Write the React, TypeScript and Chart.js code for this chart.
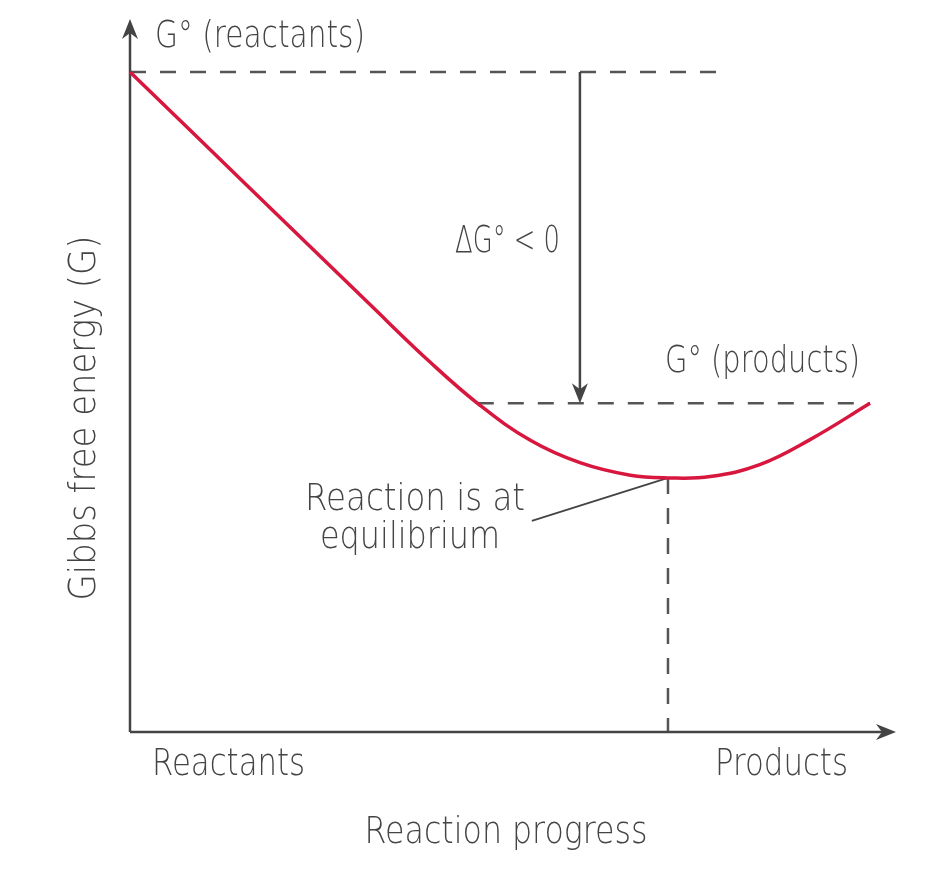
import React, { useEffect, useRef } from "react";
import { Chart, registerables } from "chart.js";

Chart.register(...registerables);

// Reaction progress (0 = pure reactants, 100 = pure products)
const progress = [0, 16.2, 32.4, 40.5, 47.3, 54.1, 60.8, 67.6, 72.7, 78.4, 85.1, 91.9, 100];
// Gibbs free energy (arbitrary units)
const energy = [100, 82.4, 64.8, 56.1, 49.5, 44.2, 40.8, 38.9, 38.5, 38.7, 40.5, 44.3, 49.8];

const gReactants = 100;
const gProducts = 49.8;
const equilibriumX = 72.7;
const equilibriumG = 38.5;
const reactantLineEnd = 79.5;
const productLineStart = 47;
const deltaArrowX = 60.8;
const pointerStart = { x: 54.3, y: 32 };

const xTitle = "Reaction progress";
const yTitle = "Gibbs free energy (G)";
const endLabels = ["Reactants", "Products"];
const labelReactants = "G° (reactants)";
const labelProducts = "G° (products)";
const labelDelta = "ΔG° < 0";
const labelEquilibrium = ["Reaction is at", "equilibrium"];

const FONT = '"DejaVu Sans", sans-serif';
const INK = "#444444";

function arrowHead(ctx: CanvasRenderingContext2D, x: number, y: number, dir: "up" | "down" | "right") {
  const L = 20, W = 8;
  ctx.beginPath();
  if (dir === "up") {
    ctx.moveTo(x, y); ctx.lineTo(x - W, y + L); ctx.lineTo(x, y + L - 6); ctx.lineTo(x + W, y + L);
  } else if (dir === "down") {
    ctx.moveTo(x, y); ctx.lineTo(x - W, y - L); ctx.lineTo(x, y - L + 6); ctx.lineTo(x + W, y - L);
  } else {
    ctx.moveTo(x, y); ctx.lineTo(x - L, y - W); ctx.lineTo(x - L + 6, y); ctx.lineTo(x - L, y + W);
  }
  ctx.closePath();
  ctx.fill();
}

// draws text squeezed horizontally to a given width
function fillFit(ctx: CanvasRenderingContext2D, text: string, x: number, y: number, width: number, align: "left" | "center" | "right") {
  const w = ctx.measureText(text).width;
  const s = width / w;
  let left = x;
  if (align === "center") left = x - width / 2;
  if (align === "right") left = x - width;
  ctx.save();
  ctx.textAlign = "left";
  ctx.translate(left, y);
  ctx.scale(s, 1);
  ctx.fillText(text, 0, 0);
  ctx.restore();
}

const diagramPlugin = {
  id: "diagram",
  beforeDatasetsDraw(chart: any) {
    const { ctx, chartArea, scales } = chart;
    const xs = scales.x, ys = scales.y;
    ctx.save();
    ctx.strokeStyle = "#555555";
    ctx.lineWidth = 2.5;
    ctx.setLineDash([16, 14]);
    ctx.beginPath();
    ctx.moveTo(xs.getPixelForValue(0), ys.getPixelForValue(gReactants));
    ctx.lineTo(xs.getPixelForValue(reactantLineEnd), ys.getPixelForValue(gReactants));
    ctx.moveTo(xs.getPixelForValue(productLineStart), ys.getPixelForValue(gProducts));
    ctx.lineTo(xs.getPixelForValue(100), ys.getPixelForValue(gProducts));
    ctx.moveTo(xs.getPixelForValue(equilibriumX), ys.getPixelForValue(equilibriumG));
    ctx.lineTo(xs.getPixelForValue(equilibriumX), chartArea.bottom);
    ctx.stroke();
    ctx.setLineDash([]);

    // axes
    ctx.strokeStyle = INK;
    ctx.fillStyle = INK;
    ctx.lineWidth = 2.5;
    ctx.beginPath();
    ctx.moveTo(chartArea.left, chartArea.bottom);
    ctx.lineTo(chartArea.left, chartArea.top - 44);
    ctx.moveTo(chartArea.left, chartArea.bottom);
    ctx.lineTo(chartArea.right + 14, chartArea.bottom);
    ctx.stroke();
    arrowHead(ctx, chartArea.left, chartArea.top - 53, "up");
    arrowHead(ctx, chartArea.right + 26, chartArea.bottom, "right");

    // delta G arrow
    const ax = xs.getPixelForValue(deltaArrowX);
    const ay0 = ys.getPixelForValue(gReactants);
    const ay1 = ys.getPixelForValue(gProducts);
    ctx.beginPath();
    ctx.moveTo(ax, ay0);
    ctx.lineTo(ax, ay1 - 10);
    ctx.stroke();
    arrowHead(ctx, ax, ay1, "down");

    // pointer
    ctx.lineWidth = 1.8;
    ctx.beginPath();
    ctx.moveTo(xs.getPixelForValue(pointerStart.x), ys.getPixelForValue(pointerStart.y));
    ctx.lineTo(xs.getPixelForValue(equilibriumX), ys.getPixelForValue(equilibriumG));
    ctx.stroke();
    ctx.restore();
  },
  afterDraw(chart: any) {
    const { ctx, chartArea } = chart;
    ctx.save();
    ctx.fillStyle = INK;
    ctx.font = `300 38px ${FONT}`;
    ctx.textBaseline = "alphabetic";

    fillFit(ctx, labelReactants, 155, 47, 210, "left");
    fillFit(ctx, labelDelta, 455, 252, 105, "left");
    fillFit(ctx, labelProducts, 665, 372, 195, "left");
    fillFit(ctx, labelEquilibrium[0], 305, 510, 220, "left");
    fillFit(ctx, labelEquilibrium[1], 320, 548, 180, "left");

    fillFit(ctx, endLabels[0], chartArea.left + 22, chartArea.bottom + 43, 153, "left");
    fillFit(ctx, endLabels[1], chartArea.right - 22, chartArea.bottom + 43, 133, "right");
    fillFit(ctx, xTitle, 506, chartArea.bottom + 111, 283, "center");

    ctx.translate(95, 418);
    ctx.rotate(-Math.PI / 2);
    fillFit(ctx, yTitle, 0, 0, 365, "center");
    ctx.restore();
  },
};

export default function App() {
  const ref = useRef<HTMLCanvasElement | null>(null);
  useEffect(() => {
    if (!ref.current) return;
    const chart = new Chart(ref.current, {
      type: "line",
      data: {
        datasets: [
          {
            data: progress.map((x, i) => ({ x, y: energy[i] })),
            borderColor: "#d8173f",
            borderWidth: 3.5,
            pointRadius: 0,
            tension: 0.4,
            clip: false as any,
          },
        ],
      },
      options: {
        animation: false,
        responsive: false,
        maintainAspectRatio: false,
        layout: { padding: { left: 130, right: 58, top: 72, bottom: 151 } },
        plugins: { legend: { display: false }, tooltip: { enabled: false } },
        scales: {
          x: { type: "linear", min: 0, max: 100, display: false },
          y: { type: "linear", min: 0, max: 100, display: false },
        },
      },
      plugins: [diagramPlugin],
    });
    return () => chart.destroy();
  }, []);
  return (
    <div style={{ position: "fixed", left: 0, top: 0, width: 928, height: 883, background: "#fff" }}>
      <canvas ref={ref} width={928} height={883} style={{ width: 928, height: 883 }} />
    </div>
  );
}
